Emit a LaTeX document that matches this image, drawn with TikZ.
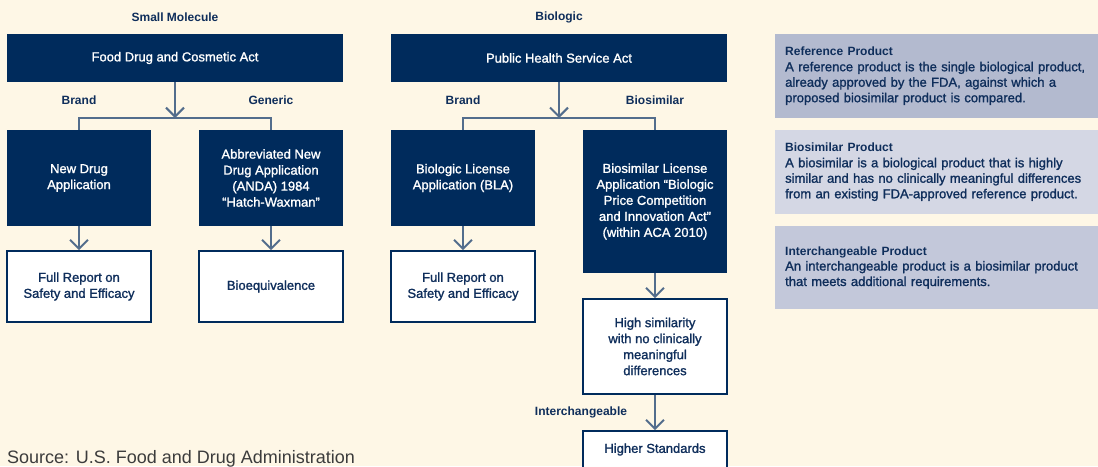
\documentclass[tikz,border=0pt]{standalone}
\usepackage{fontspec}
\setmainfont{Liberation Sans}
\newfontfamily\medfont{Liberation Sans}[FakeBold=1.3]
\usetikzlibrary{arrows.meta}
\usetikzlibrary{positioning}
\definecolor{navy}{HTML}{002B5C}
\definecolor{ink}{HTML}{0F2E5B}
\definecolor{slate}{HTML}{536D8C}
\definecolor{cream}{HTML}{FEF7E6}
\definecolor{refblue}{HTML}{B3BACF}
\definecolor{simblue}{HTML}{D4D7E4}
\definecolor{swapblue}{HTML}{C3C8DA}
\definecolor{srcgray}{HTML}{3C3C3C}
\newcommand\ptitle[1]{{\normalfont\bfseries\fontsize{12}{15.5}\selectfont #1}}
\tikzset{
  darkbox/.style={fill=navy,text=white,minimum width=144pt,minimum height=96pt,align=center,inner sep=2pt,font=\medfont\fontsize{13}{16}\selectfont},
  lightbox/.style={fill=white,draw=navy,line width=1.6pt,text=ink,minimum width=144pt,minimum height=71pt,align=center,inner sep=2pt,font=\medfont\fontsize{13}{16}\selectfont},
  tag/.style={text=ink,font=\bfseries\fontsize{12}{14}\selectfont},
  panel/.style={anchor=west,minimum width=325pt,text width=305pt,align=left,inner xsep=10pt,text=ink,font=\medfont\fontsize{13}{15.5}\selectfont},
  link/.style={draw=slate,line width=2pt,-{Straight Barb[length=9pt,width=18pt]}},
  wire/.style={draw=slate,line width=2pt},
}
\begin{document}
\begin{tikzpicture}[x=1pt,y=-1pt]
\useasboundingbox (0,0) rectangle (1098,466);
\fill[cream] (0,0) rectangle (1098,466);
% small molecule side
\node[tag] (smtitle) at (175,17) {Small Molecule};
\node[darkbox,minimum width=336pt,minimum height=48pt] (fdca) at (175,58) {Food Drug and Cosmetic Act};
\coordinate (smjoin) at (175,118);
\node[tag] (smbrand) at (79,100) {Brand};
\node[tag] (smgen) at (271,100) {Generic};
\node[darkbox] (nda) at (79,178) {New Drug\\Application};
\node[darkbox] (anda) at (271,178) {Abbreviated New\\Drug Application\\(ANDA) 1984\\“Hatch-Waxman”};
\node[lightbox] (fullsm) at (79,286.5) {Full Report on\\Safety and Efficacy};
\node[lightbox] (bioeq) at (271,286.5) {Bioequivalence};
\draw[link] (fdca.south) -- (smjoin);
\draw[wire] (nda.north) |- (smjoin) -| (anda.north);
\draw[link] (nda.south) -- (fullsm.north);
\draw[link] (anda.south) -- (bioeq.north);
% biologic side
\node[tag] (biotitle) at (559,17) {Biologic};
\node[darkbox,minimum width=336pt,minimum height=48pt] (phsa) at (559,58) {Public Health Service Act};
\coordinate (biojoin) at (559,118);
\node[tag] (biobrand) at (463,100) {Brand};
\node[tag] (biosim) at (655,100) {Biosimilar};
\node[darkbox] (bla) at (463,178) {Biologic License\\Application (BLA)};
\node[darkbox,minimum height=143pt] (bsla) at (655,201.5) {Biosimilar License\\Application “Biologic\\Price Competition\\and Innovation Act”\\(within ACA 2010)};
\node[lightbox] (fullbio) at (463,286.5) {Full Report on\\Safety and Efficacy};
\node[lightbox,minimum height=95pt] (highsim) at (655,346.5) {High similarity\\with no clinically\\meaningful\\differences};
\node[lightbox,minimum height=37pt] (higher) at (655,449.5) {Higher Standards};
\node[tag] (swap) at (581,412) {Interchangeable};
\draw[link] (phsa.south) -- (biojoin);
\draw[wire] (bla.north) |- (biojoin) -| (bsla.north);
\draw[link] (bla.south) -- (fullbio.north);
\draw[link] (bsla.south) -- (highsim.north);
\draw[link] (highsim.south) -- (higher.north);
% definitions
\node[panel,fill=refblue,minimum height=84pt] (refp) at (775,76) {\ptitle{Reference Product}\\A reference product is the single biological product,\\already approved by the FDA, against which a\\proposed biosimilar product is compared.};
\node[panel,fill=simblue,minimum height=84pt] (simp) at (775,172) {\ptitle{Biosimilar Product}\\A biosimilar is a biological product that is highly\\similar and has no clinically meaningful differences\\from an existing FDA-approved reference product.};
\node[panel,fill=swapblue,minimum height=83pt] (swapp) at (775,267.5) {\ptitle{Interchangeable Product}\\An interchangeable product is a biosimilar product\\that meets additional requirements.};
\node[anchor=base west,inner sep=0pt,text=srcgray,font=\fontsize{18}{20}\selectfont] (src) at (7,463) {Source: U.S. Food and Drug Administration};
\end{tikzpicture}
\end{document}
